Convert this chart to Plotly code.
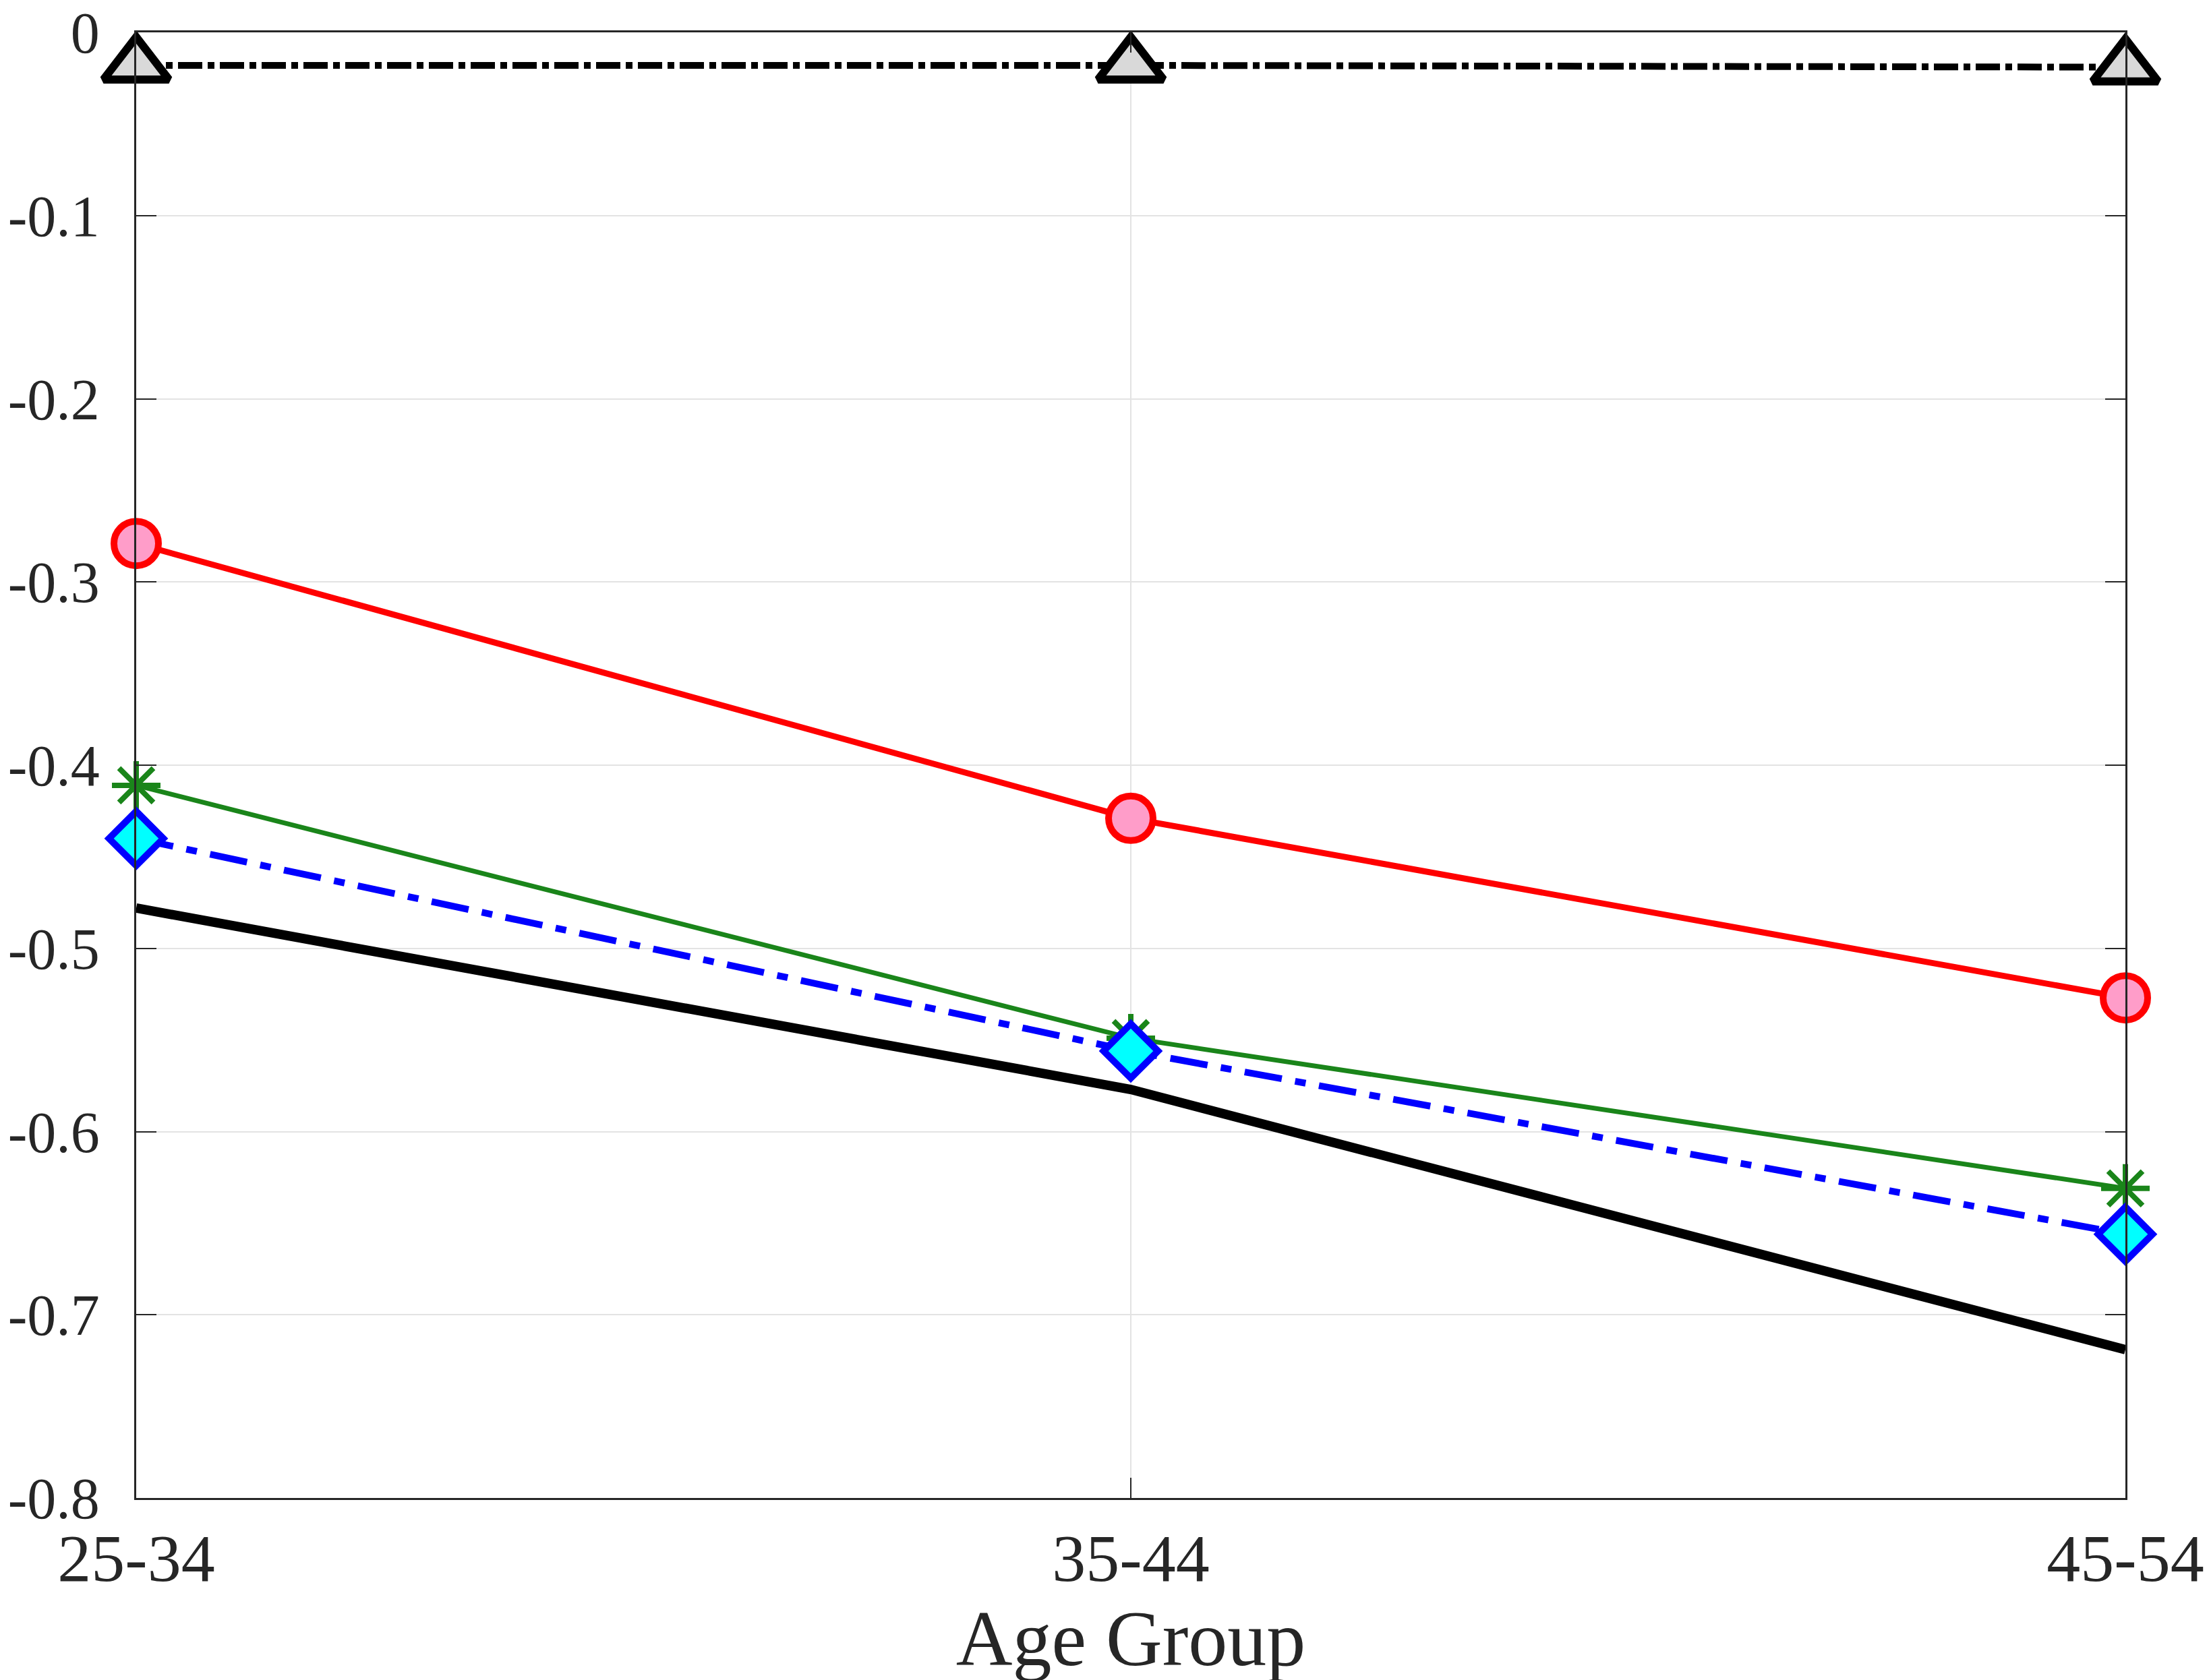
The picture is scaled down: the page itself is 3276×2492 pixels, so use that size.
import plotly.graph_objects as go

# age groups on the x axis
age_groups = ["25-34", "35-44", "45-54"]

# series values
black_solid = [-0.478, -0.577, -0.719]
green_star = [-0.411, -0.549, -0.631]
blue_diamond = [-0.440, -0.556, -0.656]
red_circle = [-0.279, -0.429, -0.527]
grey_triangle = [-0.018, -0.018, -0.019]

ytick_vals = [0, -0.1, -0.2, -0.3, -0.4, -0.5, -0.6, -0.7, -0.8]
ytick_text = ["0", "-0.1", "-0.2", "-0.3", "-0.4", "-0.5", "-0.6", "-0.7", "-0.8"]

fig = go.Figure()

fig.add_trace(go.Scatter(
    x=age_groups, y=black_solid, mode="lines",
    line=dict(color="black", width=14),
    cliponaxis=False, showlegend=False,
))

fig.add_trace(go.Scatter(
    x=age_groups, y=green_star, mode="lines+markers",
    line=dict(color="#1a851a", width=7),
    marker=dict(symbol="asterisk-open", size=60,
                line=dict(color="#1a851a", width=8)),
    cliponaxis=False, showlegend=False,
))

fig.add_trace(go.Scatter(
    x=age_groups, y=blue_diamond, mode="lines+markers",
    line=dict(color="#0000ff", width=10, dash="56px,20px,16px,20px"),
    marker=dict(symbol="diamond", size=62, color="#00ffff",
                line=dict(color="#0000ff", width=10)),
    cliponaxis=False, showlegend=False,
))

fig.add_trace(go.Scatter(
    x=age_groups, y=red_circle, mode="lines+markers",
    line=dict(color="#ff0000", width=9),
    marker=dict(symbol="circle", size=66, color="#ff9dc9",
                line=dict(color="#ff0000", width=10)),
    cliponaxis=False, showlegend=False,
))

fig.add_trace(go.Scatter(
    x=age_groups, y=grey_triangle, mode="lines+markers",
    line=dict(color="black", width=10, dash="36px,8px,10px,8px"),
    marker=dict(symbol="triangle-up", size=84, color="#d9d9d9",
                line=dict(color="black", width=12)),
    cliponaxis=False, showlegend=False,
))

fig.update_layout(
    width=3276,
    height=2492,
    margin=dict(l=194, r=132, t=40, b=278, autoexpand=False),
    paper_bgcolor="white",
    plot_bgcolor="white",
    xaxis=dict(
        type="category",
        range=[0, 2],
        automargin=True,
        showgrid=True, gridcolor="#e3e3e3", gridwidth=2,
        showline=True, linecolor="#262626", linewidth=3, mirror="ticks",
        ticks="inside", ticklen=30, tickwidth=2, tickcolor="#262626",
        tickfont=dict(family="Liberation Serif", size=100, color="#262626"),
        title=dict(text="Age Group", standoff=14,
                   font=dict(family="Liberation Serif", size=116, color="#262626")),
        zeroline=False,
    ),
    yaxis=dict(
        range=[-0.8, 0.00001],
        automargin=False,
        tickvals=ytick_vals, ticktext=ytick_text,
        showgrid=True, gridcolor="#e3e3e3", gridwidth=2,
        showline=True, linecolor="#262626", linewidth=3, mirror="ticks",
        ticks="inside", ticklen=30, tickwidth=2, tickcolor="#262626",
        tickfont=dict(family="Liberation Serif", size=86, color="#262626"),
        ticklabelstandoff=34, ticklabeloverflow="allow",
        zeroline=False,
    ),
)

fig.write_html("out.html")
